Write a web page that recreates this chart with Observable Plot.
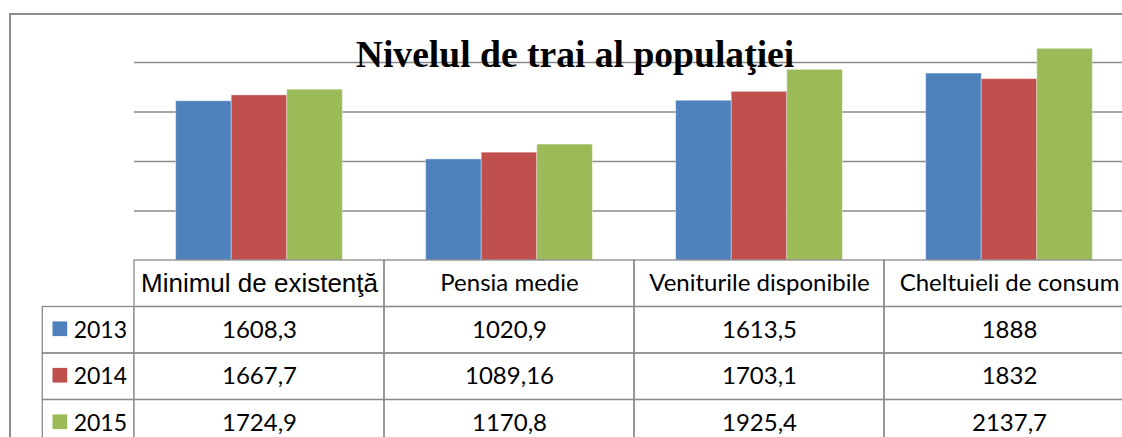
<!DOCTYPE html>
<html><head><meta charset="utf-8">
<script src="https://cdn.jsdelivr.net/npm/d3@7"></script>
<script src="https://cdn.jsdelivr.net/npm/@observablehq/plot@0.6"></script>
<style>
html,body{margin:0;padding:0;background:#fff;}
#wrap{position:relative;width:1122px;height:437px;overflow:hidden;background:#fff;}
#frame{position:absolute;left:9px;top:13px;width:1200px;height:600px;border-left:2px solid #8c8c8c;border-top:2px solid #8c8c8c;}
#chart,#table,#legend{position:absolute;left:0;}
#chart{top:0;}
#table,#legend{top:259px;}
#title{position:absolute;left:0;width:1150px;top:35.5px;text-align:center;font-family:"Liberation Serif";font-weight:bold;font-size:37.6px;line-height:37.6px;color:#000;z-index:5;white-space:nowrap;}
</style></head><body>
<div id="wrap"><div id="frame"></div><div id="chart"></div><div id="table"></div><div id="legend"></div><div id="title">Nivelul de trai al populaţiei</div></div>
<script>
const categories = ["Minimul de existenţă", "Pensia medie", "Veniturile disponibile", "Cheltuieli de consum"];
const years = ["2013", "2014", "2015"];
const values2013 = [1608.3, 1020.9, 1613.5, 1888];
const values2014 = [1667.7, 1089.16, 1703.1, 1832];
const values2015 = [1724.9, 1170.8, 1925.4, 2137.7];
const colors = ["#4F81BD", "#C0504D", "#9BBB59"];
const gridTicks = [500, 1000, 1500, 2000];
const yMax = 2500;

const series = [values2013, values2014, values2015];
const data = years.flatMap((yr, i) => categories.map((c, j) => ({category: c, year: yr, value: series[i][j]})));
const gridColor = "#8a8a8a";
const transparent = {background: "transparent", overflow: "hidden"};

const chart = Plot.plot({
  width: 1122, height: 260, marginTop: 12.5, marginBottom: 0, marginLeft: 134, marginRight: 0,
  style: transparent,
  fx: {domain: categories, range: [134, 1134], padding: 0, round: false, axis: null},
  x: {domain: years, paddingInner: 0, paddingOuter: 0.75, round: false, axis: null},
  y: {domain: [0, yMax], axis: null},
  color: {domain: years, range: colors},
  marks: [
    Plot.ruleY(gridTicks, {stroke: gridColor, strokeWidth: 1.3}),
    Plot.barY(data, {fx: "category", x: "year", y: "value", fill: "year", stroke: "#ffffff", strokeOpacity: 0.35, strokeWidth: 1, inset: 0})
  ]
});
document.getElementById("chart").appendChild(chart);

const rows = ["header", ...years];
const cells = rows.flatMap(r => categories.map(c => ({row: r, category: c})));
const numCells = data.map(d => ({row: d.year, category: d.category, label: String(d.value).replace(".", ",")}));

const table = Plot.plot({
  width: 1122, height: 178, margin: 0,
  style: transparent,
  x: {domain: categories, range: [134, 1134], padding: 0, round: false, axis: null},
  y: {domain: rows, range: [1, 187], padding: 0, round: false, axis: null},
  marks: [
    Plot.cell(cells, {x: "category", y: "row", fill: "none", stroke: gridColor, strokeWidth: 1.3, inset: 0}),
    Plot.text(categories.slice(0, 1), {x: d => d, y: () => "header", text: d => d, fontFamily: "Liberation Sans", fontSize: 26, fill: "#000"}),
    Plot.text(categories.slice(1), {x: d => d, y: () => "header", text: d => d, fontFamily: "Lato", fontSize: 24, fill: "#000"}),
    Plot.text(numCells, {x: "category", y: "row", text: "label", fontFamily: "Lato", fontSize: 24, fill: "#000"})
  ]
});
document.getElementById("table").appendChild(table);

const legendCells = years.map(y => ({row: y, col: "legend"}));
const legend = Plot.plot({
  width: 134, height: 178, margin: 0,
  style: transparent,
  x: {domain: ["legend"], range: [42.3, 134], padding: 0, round: false, axis: null},
  y: {domain: rows, range: [1, 187], padding: 0, round: false, axis: null},
  color: {domain: years, range: colors},
  marks: [
    Plot.cell(legendCells, {x: "col", y: "row", fill: "none", stroke: gridColor, strokeWidth: 1.3, inset: 0}),
    Plot.dot(legendCells, {x: "col", y: "row", fill: "row", symbol: "square", r: 8.3, dx: -28.8, dy: -1.5, stroke: "none"}),
    Plot.text(legendCells, {x: "col", y: "row", text: "row", textAnchor: "start", dx: -15, fontFamily: "Lato", fontSize: 23, fill: "#000"})
  ]
});
document.getElementById("legend").appendChild(legend);
</script>
</body></html>
